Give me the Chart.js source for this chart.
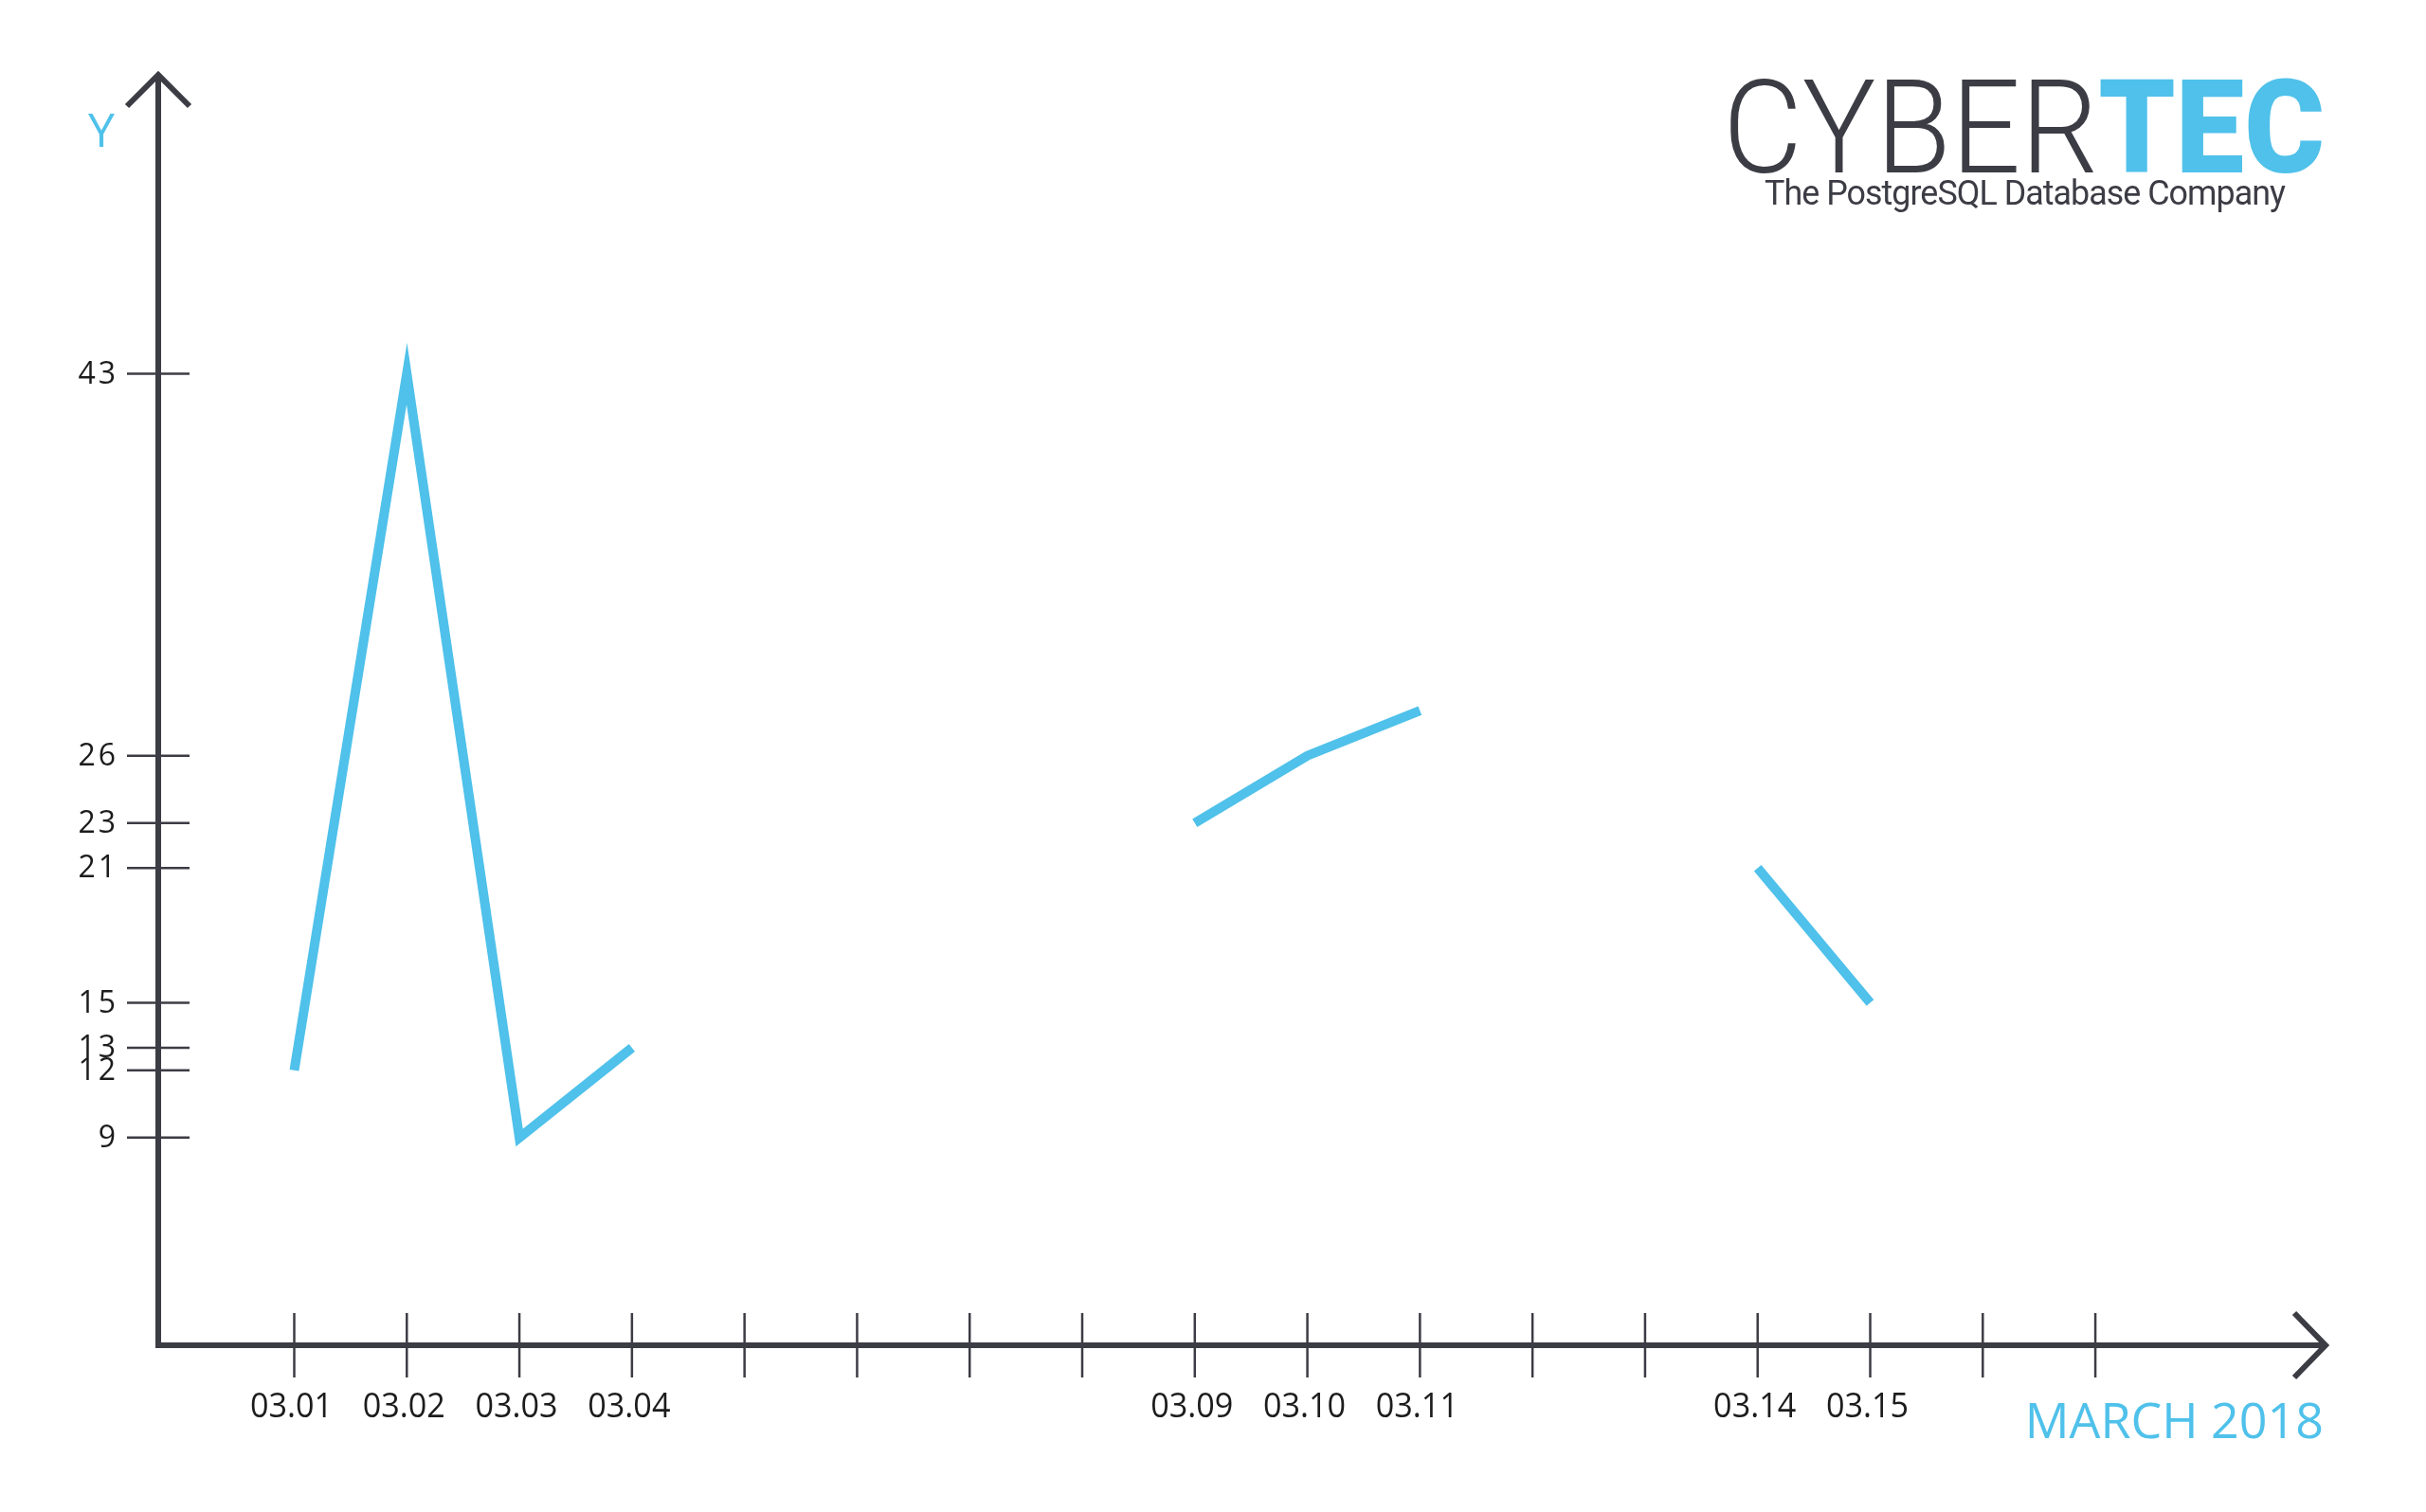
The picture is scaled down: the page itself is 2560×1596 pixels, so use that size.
<!DOCTYPE html>
<html>
<head>
<meta charset="utf-8">
<title>CYBERTEC - March 2018</title>
<script src="https://cdn.jsdelivr.net/npm/chart.js@4.4.1/dist/chart.umd.min.js"></script>
<style>
    html, body { margin: 0; padding: 0; background: #ffffff; }
    #wrap { width: 2560px; height: 1596px; position: relative; }
</style>
</head>
<body>
<div id="wrap"><canvas id="chart"></canvas></div>
<script>
// data (day of March 2018 -> value)
const days = [1, 2, 3, 4, 5, 6, 7, 8, 9, 10, 11, 12, 13, 14, 15, 16, 17];
const xLabels = ['03.01', '03.02', '03.03', '03.04', '', '', '', '', '03.09', '03.10', '03.11', '', '', '03.14', '03.15', '', ''];
const values = [12, 43, 9, 13, null, null, null, null, 23, 26, 28, null, null, 21, 15, null, null];
const yTicks = [9, 12, 13, 15, 21, 23, 26, 43];

const AXIS = '#3c3c45';
const BLUE = '#4fc1ea';
const TEXT = '#1c1c1c';

const axesPlugin = {
    id: 'arrowAxes',
    beforeDatasetsDraw(chart) {
        const { ctx, chartArea: a, scales: { x, y } } = chart;
        ctx.save();
        ctx.strokeStyle = AXIS;
        ctx.lineCap = 'butt';

        // crossing tick marks
        ctx.lineWidth = 2.5;
        days.forEach(d => {
            const px = x.getPixelForValue(d);
            ctx.beginPath();
            ctx.moveTo(px, a.bottom - 34);
            ctx.lineTo(px, a.bottom + 34);
            ctx.stroke();
        });
        yTicks.forEach(v => {
            const py = y.getPixelForValue(v);
            ctx.beginPath();
            ctx.moveTo(a.left - 33, py);
            ctx.lineTo(a.left + 33, py);
            ctx.stroke();
        });

        // the two axes with arrow heads
        ctx.lineWidth = 6;
        ctx.lineJoin = 'miter';
        ctx.beginPath();
        ctx.moveTo(a.left, a.top);
        ctx.lineTo(a.left, a.bottom);
        ctx.lineTo(a.right, a.bottom);
        ctx.stroke();

        ctx.beginPath();
        ctx.moveTo(a.left - 33, a.top + 33);
        ctx.lineTo(a.left, a.top);
        ctx.lineTo(a.left + 33, a.top + 33);
        ctx.stroke();

        ctx.beginPath();
        ctx.moveTo(a.right - 33, a.bottom - 34);
        ctx.lineTo(a.right, a.bottom);
        ctx.lineTo(a.right - 33, a.bottom + 34);
        ctx.stroke();
        ctx.restore();
    },
    afterDraw(chart) {
        const { ctx, chartArea: a, scales: { x, y } } = chart;
        ctx.save();
        ctx.fillStyle = TEXT;

        // y tick labels
        ctx.font = '32px "Open Sans", sans-serif';
        ctx.letterSpacing = '3px';
        ctx.textAlign = 'right';
        ctx.textBaseline = 'middle';
        yTicks.forEach(v => {
            ctx.fillText(String(v), a.left - 42, y.getPixelForValue(v) + 1);
        });
        ctx.letterSpacing = '0px';

        // x tick labels
        ctx.font = '36px "Open Sans", sans-serif';
        ctx.textAlign = 'center';
        ctx.textBaseline = 'alphabetic';
        days.forEach((d, i) => {
            if (!xLabels[i]) return;
            const px = x.getPixelForValue(d);
            ctx.save();
            ctx.translate(px - 3, a.bottom + 76);
            ctx.scale(0.95, 1);
            ctx.fillText(xLabels[i], 0, 0);
            ctx.restore();
        });

        // axis names
        ctx.fillStyle = BLUE;
        ctx.font = '50px "Open Sans", sans-serif';
        ctx.textAlign = 'center';
        ctx.fillText('Y', 107, 155);
        ctx.font = '52px "Open Sans", sans-serif';
        ctx.textAlign = 'right';
        ctx.fillText('MARCH 2018', 2452, 1518);

        // logo
        ctx.textAlign = 'left';
        const logoLeft = 1818, logoRight = 2453;
        ctx.font = '300 138px Roboto, sans-serif';
        const w1 = ctx.measureText('CYBER').width;
        ctx.font = '900 138px Roboto, sans-serif';
        const w2 = ctx.measureText('TEC').width;
        const k = (logoRight - logoLeft) / (w1 + w2);
        ctx.save();
        ctx.translate(logoLeft, 182);
        ctx.scale(k, 1);
        ctx.fillStyle = AXIS;
        ctx.font = '300 138px Roboto, sans-serif';
        ctx.fillText('CYBER', 0, 0);
        ctx.fillStyle = BLUE;
        ctx.font = '900 138px Roboto, sans-serif';
        ctx.fillText('TEC', w1, 0);
        ctx.restore();

        const tag = 'The PostgreSQL Database Company';
        ctx.font = '37px Roboto, sans-serif';
        ctx.letterSpacing = '-1px';
        const tw = ctx.measureText(tag).width;
        ctx.save();
        ctx.translate(1862, 216);
        ctx.scale(549 / tw, 1);
        ctx.fillStyle = AXIS;
        ctx.fillText(tag, 0, 0);
        ctx.restore();
        ctx.letterSpacing = '0px';

        ctx.restore();
    }
};

new Chart(document.getElementById('chart'), {
    type: 'line',
    data: {
        datasets: [{
            data: days.map((d, i) => ({ x: d, y: values[i] })),
            borderColor: BLUE,
            borderWidth: 10,
            borderJoinStyle: 'miter',
            borderCapStyle: 'butt',
            pointRadius: 0,
            spanGaps: false,
            tension: 0
        }]
    },
    options: {
        responsive: true,
        maintainAspectRatio: false,
        devicePixelRatio: 1,
        animation: false,
        layout: { padding: { top: 79, right: 106, left: 0, bottom: 0 } },
        plugins: { legend: { display: false }, tooltip: { enabled: false } },
        scales: {
            x: {
                type: 'linear',
                min: -0.208,
                max: 19.045,
                grid: { display: false },
                border: { display: false },
                ticks: { display: false },
                afterFit: s => { s.height = 176; }
            },
            y: {
                type: 'linear',
                min: -0.24,
                max: 56.3,
                grid: { display: false },
                border: { display: false },
                afterBuildTicks: s => { s.ticks = yTicks.map(v => ({ value: v })); },
                ticks: { display: false },
                afterFit: s => { s.width = 167; }
            }
        }
    },
    plugins: [axesPlugin]
});
</script>
</body>
</html>
